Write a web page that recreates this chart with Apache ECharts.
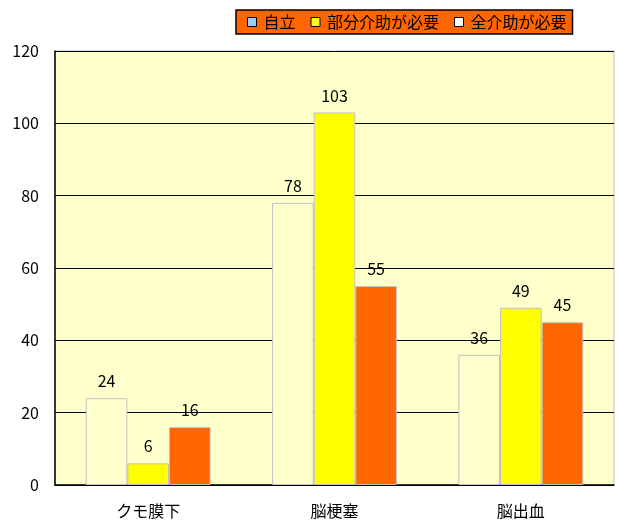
<!DOCTYPE html>
<html><head><meta charset="utf-8">
<script src="https://cdn.jsdelivr.net/npm/echarts@6/dist/echarts.min.js"></script>
<style>html,body{margin:0;padding:0;background:#fff}#c{width:621px;height:530px}</style>
</head><body><div id="c"></div>
<script>
const categories = ['クモ膜下', '脳梗塞', '脳出血'];
const seriesNames = ['自立', '部分介助が必要', '全介助が必要'];
const jiritsu = [24, 78, 36];
const bubun = [6, 103, 49];
const zen = [16, 55, 45];
const yTicks = [0, 20, 40, 60, 80, 100, 120];

const FONT = '"Noto Sans CJK JP", sans-serif';
const barColors = ['#FFFFCC', '#FFFF00', '#FF6600'];
const legendColors = ['#99CCFF', '#FFFF00', '#FFFFFF'];
const dataSets = [jiritsu, bubun, zen];

const chart = echarts.init(document.getElementById('c'), null, {renderer: 'canvas'});
chart.setOption({
  animation: false,
  backgroundColor: '#FFFFFF',
  grid: {left: 55, right: 7, top: 51, bottom: 45, show: true, backgroundColor: '#FFFFCC', borderColor: '#C0C0C0', borderWidth: 1},
  legend: {
    top: 10, left: 236,
    padding: [4, 6, 4, 11],
    backgroundColor: '#FF6600',
    borderColor: '#000000', borderWidth: 1.5,
    itemWidth: 9, itemHeight: 9, itemGap: 15,
    icon: 'rect',
    textStyle: {fontFamily: FONT, fontSize: 16, color: '#000', padding: [0, 0, 0, 2]},
    data: seriesNames.map((n, i) => ({name: n, itemStyle: {color: legendColors[i], borderColor: '#000', borderWidth: 1}}))
  },
  xAxis: {
    type: 'category', data: categories,
    axisLine: {lineStyle: {color: '#000', width: 1.5}},
    axisTick: {show: false},
    axisLabel: {fontFamily: FONT, fontSize: 16, color: '#000', margin: 18}
  },
  yAxis: {
    type: 'value', min: yTicks[0], max: yTicks[yTicks.length - 1], interval: 20,
    axisLine: {show: true, lineStyle: {color: '#000', width: 1.5}},
    axisTick: {show: false},
    splitLine: {lineStyle: {color: '#000', width: 1}},
    axisLabel: {fontFamily: FONT, fontSize: 16, color: '#000', margin: 16}
  },
  series: seriesNames.map((n, i) => ({
    name: n, type: 'bar', data: dataSets[i],
    barGap: '0%', barCategoryGap: '33%',
    itemStyle: {color: barColors[i], borderColor: '#C0C0C0', borderWidth: 1},
    label: {show: true, position: 'top', distance: 9, fontFamily: FONT, fontSize: 16, color: '#000'}
  }))
});
</script></body></html>
